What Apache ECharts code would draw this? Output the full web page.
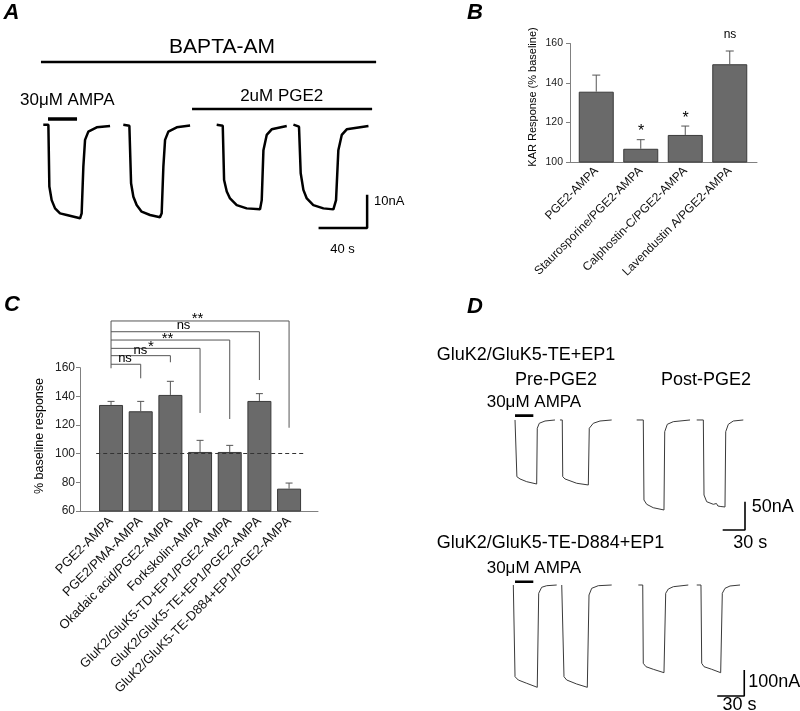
<!DOCTYPE html>
<html>
<head>
<meta charset="utf-8">
<script src="https://cdn.jsdelivr.net/npm/echarts@6/dist/echarts.min.js"></script>
<style>
html,body{margin:0;padding:0;background:#fff;}
#chart{width:800px;height:711px;}
</style>
</head>
<body>
<div id="chart"></div>
<script>
// ---------------- DATA ----------------
// Panel A traces: [time (s), current (nA)]
const traceA1 = [[2.7,0],[6.9,0],[7.7,-18.7],[9.6,-22.8],[12.4,-25.3],[16.5,-26.8],[22.0,-27.3],[33.0,-28.3],[34.3,-26.8],[35.7,-12.7],[37.1,-4.6],[39.8,-2.1],[46.7,-0.8],[57.7,-0.4]];
const traceA2 = [[68.6,0],[73.6,-0.3],[75.0,-17.7],[76.9,-21.8],[79.6,-24.3],[83.7,-26.3],[90.6,-27.3],[98.8,-28.0],[100.2,-26.8],[101.6,-12.7],[103.0,-4.6],[105.7,-2.1],[112.6,-0.8],[123.6,-0.25]];
const traceA3 = [[145.5,0],[150.5,-0.3],[151.6,-16.7],[153.8,-20.2],[156.5,-22.3],[162.0,-24.3],[170.2,-25.3],[181.2,-25.6],[182.6,-22.8],[184.0,-7.7],[186.7,-3.1],[190.8,-1.4],[203.2,-0.4]];
const traceA4 = [[208.7,0],[213.3,-0.6],[214.7,-14.7],[216.9,-19.7],[219.7,-22.3],[225.1,-24.3],[233.4,-25.3],[241.6,-25.6],[243.8,-22.8],[245.7,-7.7],[248.5,-3.1],[252.6,-1.4],[270.5,-0.4]];
// drug application periods (s)
const baptaA = [0.8, 276.8];
const pge2A = [125.2, 273.5];
const ampaA = [6.6, 30.5];

// Panel B
const catsB = ['PGE2-AMPA','Staurosporine/PGE2-AMPA','Calphostin-C/PGE2-AMPA','Lavendustin A/PGE2-AMPA'];
const meanB = [135.6, 106.7, 113.7, 149.5];
const semB = [8.4, 4.6, 4.5, 6.7];
const sigB = ['', '*', '*', 'ns'];
const ticksB = [100, 120, 140, 160];

// Panel C
const catsC = ['PGE2-AMPA','PGE2/PMA-AMPA','Okadaic acid/PGE2-AMPA','Forkskolin-AMPA','GluK2/GluK5-TD+EP1/PGE2-AMPA','GluK2/GluK5-TE+EP1/PGE2-AMPA','GluK2/GluK5-TE-D884+EP1/PGE2-AMPA'];
const meanC = [134.0, 129.6, 141.0, 101.2, 101.2, 136.8, 75.6];
const semC = [2.5, 6.9, 9.5, 8.1, 4.6, 5.1, 3.9];
const sigC = ['ns','ns','*','**','ns','**'];
const ticksC = [60, 80, 100, 120, 140, 160];

// Panel D traces: [time (s), current (nA)]
const traceD1a = [[20.2,0],[22.4,0],[22.7,-100],[26.9,-104],[35.9,-108.8],[49.3,-112.9],[50.1,-14.6],[52.8,-5.8],[60.5,-1.8],[73.9,0]];
const traceD1b = [[80.6,0],[83.7,0],[84.3,-100],[87.4,-104],[103.1,-111.6],[118.7,-114.6],[120.0,-14.6],[125.4,-5.8],[134.4,-1.8],[150.1,0]];
const traceD1c = [[183.7,0],[192.6,0],[193.5,-141.1],[197.2,-148.7],[206.0,-154.7],[220.4,-158.7],[221.4,-20.6],[224.9,-7.6],[232.9,-3.0],[255.4,0]];
const traceD1d = [[264.4,0],[273.3,0],[274.2,-132.3],[277.8,-144.1],[286.7,-148.7],[288.9,-149.9],[290.9,-147.3],[292.9,-151.7],[294.9,-149.0],[296.9,-152.6],[298.9,-150.8],[302.4,-153.4],[303.4,-20.6],[306.9,-7.6],[313.6,-1.8],[327.0,0]];
const traceD2a = [[14.8,0],[15.9,0],[16.7,-352.7],[20.3,-365.4],[29.7,-378.1],[41.4,-393.5],[42.2,-393.5],[43.0,-31.9],[46.3,-8.8],[51.9,-2.7],[63.0,0]];
const traceD2b = [[68.6,0],[70.3,0],[71.1,-352.7],[74.1,-365.4],[85.2,-380.8],[97.0,-393.5],[98.1,-393.5],[98.9,-38.5],[101.9,-12.7],[109.2,-2.7],[124.1,0]];
const traceD2c = [[153.7,0],[158.6,0],[159.2,-301.2],[162.2,-314.2],[170.3,-324.2],[182.2,-337.3],[183.3,-337.3],[184.1,-31.9],[187.0,-15.4],[192.6,-6.5],[209.2,0]];
const traceD2d = [[218.6,0],[223.3,0],[224.1,-301.2],[226.7,-314.2],[235.2,-324.2],[245.2,-337.3],[246.3,-337.3],[247.0,-31.9],[250.0,-12.7],[255.6,-3.8],[266.7,0]];
const ampaD1 = [20.2, 44.8];
const ampaD2 = [16.7, 37.0];

// ---------------- RENDER ----------------
const FONT = '"Liberation Sans", Arial, Helvetica, sans-serif';
const chart = echarts.init(document.getElementById('chart'), null, {renderer:'canvas'});

function traceSeries(data, xi, width, color){
  return {type:'line', xAxisIndex:xi, yAxisIndex:xi, data:data, symbol:'none', showSymbol:false,
    lineStyle:{color:color, width:width}, silent:true, clip:false, z:5, animation:false};
}
function hbar(t, level, xi, width){
  return traceSeries([[t[0], level],[t[1], level]], xi, width, '#000');
}
function scaleBar(cx, cy, dx, dy, xi, width){
  return traceSeries([[cx-dx, cy],[cx, cy],[cx, cy+dy]], xi, width, '#000');
}
function errSeries(xi, means, sems, cap){
  return {type:'custom', xAxisIndex:xi, yAxisIndex:xi, clip:false, silent:true, z:10,
    data: means.map((m,i)=>[i, m, m+sems[i]]),
    encode:{x:0, y:[1,2]},
    renderItem:function(params, api){
      const p0 = api.coord([api.value(0), api.value(1)]);
      const p1 = api.coord([api.value(0), api.value(2)]);
      const st = {stroke:'#555', lineWidth:1};
      return {type:'group', children:[
        {type:'line', shape:{x1:p0[0], y1:p0[1], x2:p1[0], y2:p1[1]}, style:st},
        {type:'line', shape:{x1:p1[0]-cap, y1:p1[1], x2:p1[0]+cap, y2:p1[1]}, style:st}
      ]};
    }};
}
function valueAxisStyled(gi, min, max, ticks, fs, margin){
  return {gridIndex:gi, type:'value', min:min, max:max, interval:ticks[1]-ticks[0],
    axisLine:{show:true, onZero:false, lineStyle:{color:'#808080', width:1}},
    axisTick:{show:true, inside:false, length:4, lineStyle:{color:'#808080'}},
    axisLabel:{show:true, fontSize:fs, margin:margin, color:'#222', fontFamily:FONT},
    splitLine:{show:false}};
}
function baseLineAxis(gi){
  return {gridIndex:gi, type:'value', min:0, max:1,
    axisLine:{show:true, onZero:false, lineStyle:{color:'#808080', width:1}},
    axisTick:{show:false}, axisLabel:{show:false}, splitLine:{show:false}};
}
function catAxis(gi, cats, fs, margin){
  return {gridIndex:gi, type:'category', data:cats, boundaryGap:true,
    axisLine:{show:false}, axisTick:{show:false}, splitLine:{show:false},
    axisLabel:{show:true, rotate:45, interval:0, fontSize:fs, margin:margin, color:'#111', fontFamily:FONT}};
}
function hidden(gi, type, min, max){ return {gridIndex:gi, type:type, min:min, max:max, show:false, splitLine:{show:false}}; }

const grids = [
  {left:40, top:42, width:340, height:215},        // 0 A traces
  {left:570, top:43.5, width:187, height:118.5},   // 1 B axes
  {left:574, top:43.5, width:178, height:118.5},   // 2 B bars
  {left:80, top:367.7, width:238, height:143.3},   // 3 C axes
  {left:96.2, top:367.7, width:207.7, height:143.3}, // 4 C bars
  {left:500, top:397.3, width:260.4, height:136.1}, // 5 D1
  {left:500, top:572, width:270, height:130}        // 6 D2
].map(g => Object.assign({outerBoundsMode:'none', containLabel:false, show:false}, g));

const xAxes = [
  hidden(0,'value',0,280),
  baseLineAxis(1),
  catAxis(2, catsB, 12, 7),
  baseLineAxis(3),
  catAxis(4, catsC, 13, 8),
  hidden(5,'value',0,350),
  hidden(6,'value',0,300)
];
const yAxes = [
  hidden(0,'value',-40,25),
  valueAxisStyled(1, ticksB[0], ticksB[ticksB.length-1], ticksB, 10.5, 7),
  hidden(2,'value',ticksB[0], ticksB[ticksB.length-1]),
  valueAxisStyled(3, ticksC[0], ticksC[ticksC.length-1], ticksC, 12, 5),
  hidden(4,'value',ticksC[0], ticksC[ticksC.length-1]),
  hidden(5,'value',-200,40),
  hidden(6,'value',-450,50)
];

const series = [];
// Panel A
[traceA1, traceA2, traceA3, traceA4].forEach(t => series.push(traceSeries(t, 0, 2.5, '#000')));
series.push(hbar(baptaA, 18.95, 0, 2.7));
series.push(hbar(pge2A, 4.75, 0, 2.7));
series.push(hbar(ampaA, 1.72, 0, 3.3));
series.push(scaleBar(269.4, -31.2, 40, 10, 0, 2.5));

// Panel B
series.push({type:'bar', xAxisIndex:2, yAxisIndex:2, data:meanB, barWidth:35, silent:true,
  itemStyle:{color:'#6a6a6a', borderColor:'#3a3a3a', borderWidth:1}, z:3});
series.push(errSeries(2, meanB, semB, 4));

// Panel C
series.push({type:'bar', xAxisIndex:4, yAxisIndex:4, data:meanC, barWidth:24, silent:true,
  itemStyle:{color:'#6a6a6a', borderColor:'#3a3a3a', borderWidth:1}, z:3,
  markLine:{silent:true, symbol:'none', label:{show:false}, animation:false,
    lineStyle:{type:[4,3], color:'#333', width:1}, data:[{yAxis:100}]}});
series.push(errSeries(4, meanC, semC, 3.5));
// comparison brackets (heights in % units)
const bracketTops = [162.4, 168.4, 173.5, 179.3, 185.1, 192.6];
const bracketEnds = [152.6, 163.8, 128.4, 124.2, 151.4, 118.1];
series.push(traceSeries([[0, bracketTops[bracketTops.length-1]],[0, 159.6]], 4, 1, '#555'));
bracketTops.forEach((h,i) => {
  series.push(traceSeries([[0, h],[i+1, h],[i+1, bracketEnds[i]]], 4, 1, '#555'));
});

// Panel D
[traceD1a, traceD1b, traceD1c, traceD1d].forEach(t => series.push(traceSeries(t, 5, 1, '#3a3a3a')));
series.push(hbar(ampaD1, 7.6, 5, 2.6));
series.push(scaleBar(329.3, -194, 30, 50, 5, 1.6));
[traceD2a, traceD2b, traceD2c, traceD2d].forEach(t => series.push(traceSeries(t, 6, 1, '#3a3a3a')));
series.push(hbar(ampaD2, 12.7, 6, 2.6));
series.push(scaleBar(271.4, -426.9, 30, 100, 6, 1.6));

// ---- text annotations ----
function txt(x, y, s, size, align, extra){
  const st = Object.assign({text:s, fontSize:size, fontFamily:FONT, fill:'#000', align:align||'left', verticalAlign:'middle'}, extra||{});
  return {type:'text', x:x, y:y, style:st, z:100, silent:true};
}
const letter = {fontWeight:'bold', fontStyle:'italic'};
const graphics = [
  txt(11.5, 13, 'A', 22, 'center', letter),
  txt(475, 13.3, 'B', 22, 'center', letter),
  txt(12, 305, 'C', 22, 'center', letter),
  txt(475, 307, 'D', 22, 'center', letter),
  // A
  txt(222, 47, 'BAPTA-AM', 21, 'center'),
  txt(20, 100.5, '30μM AMPA', 17, 'left'),
  txt(281.7, 96.3, '2uM PGE2', 17, 'center'),
  txt(374, 201, '10nA', 13, 'left'),
  txt(342.5, 249, '40 s', 13, 'center'),
  // B
  Object.assign(txt(533, 97, 'KAR Response (% baseline)', 11, 'center'), {rotation:Math.PI/2}),
  txt(641, 131.2, sigB[1], 16, 'center'),
  txt(685.5, 118.2, sigB[2], 16, 'center'),
  txt(730, 35, sigB[3], 12, 'center'),
  // C
  Object.assign(txt(40, 436, '% baseline response', 12.5, 'center'), {rotation:Math.PI/2}),
  txt(125, 358.3, sigC[0], 13, 'center'),
  txt(140.3, 350.7, sigC[1], 13, 'center'),
  txt(151, 346.5, sigC[2], 15, 'center'),
  txt(167.5, 339.2, sigC[3], 15, 'center'),
  txt(183.5, 325, sigC[4], 13, 'center'),
  txt(197.5, 319.2, sigC[5], 15, 'center'),
  // D
  txt(436.7, 355, 'GluK2/GluK5-TE+EP1', 18, 'left'),
  txt(515, 380, 'Pre-PGE2', 18, 'left'),
  txt(661, 380, 'Post-PGE2', 18, 'left'),
  txt(486.7, 402.5, '30μM AMPA', 17, 'left'),
  txt(751.7, 507.5, '50nA', 18, 'left'),
  txt(750.3, 543.3, '30 s', 18, 'center'),
  txt(436.7, 543.3, 'GluK2/GluK5-TE-D884+EP1', 18, 'left'),
  txt(486.7, 568.8, '30μM AMPA', 17, 'left'),
  txt(748.3, 681.7, '100nA', 18, 'left'),
  txt(739.5, 705, '30 s', 18, 'center')
];

chart.setOption({
  animation:false,
  backgroundColor:'#fff',
  grid:grids,
  xAxis:xAxes,
  yAxis:yAxes,
  series:series,
  graphic:{elements:graphics}
});
</script>
</body>
</html>
